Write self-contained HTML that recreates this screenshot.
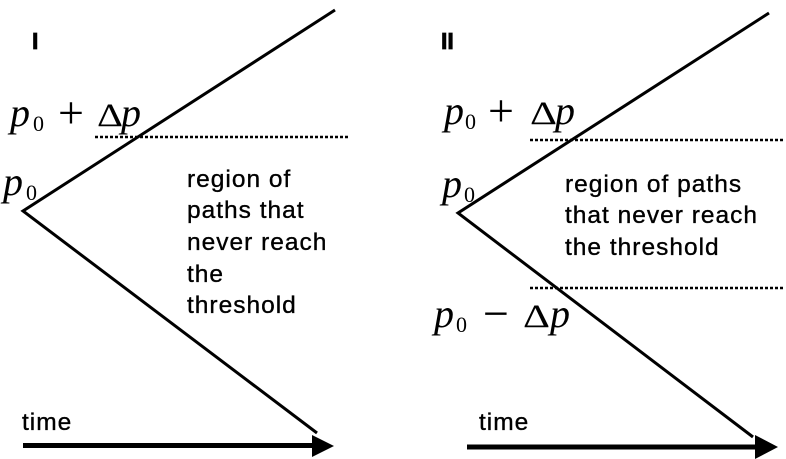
<!DOCTYPE html>
<html>
<head>
<meta charset="utf-8">
<style>
  html, body { margin: 0; padding: 0; background: #fff; }
  svg { display: block; }
  .t { font-family: "Liberation Sans", sans-serif; font-size: 24.5px; letter-spacing: 1px; fill: #000; stroke: #000; stroke-width: 0.35px; }
  .b { font-family: "Liberation Sans", sans-serif; font-size: 23px; font-weight: bold; fill: #000; stroke: #000; stroke-width: 0.8px; }
  .pi { font-family: "Liberation Serif", serif; font-style: italic; font-size: 40px; fill: #000; }
  .sub { font-family: "Liberation Serif", serif; font-size: 22px; fill: #000; }
  .op { font-family: "Liberation Serif", serif; font-size: 46px; fill: #000; }
  .dl { font-family: "Liberation Serif", serif; font-size: 33px; fill: #000; }
</style>
</head>
<body>
<svg width="786" height="459" viewBox="0 0 786 459" xmlns="http://www.w3.org/2000/svg">
  <rect x="0" y="0" width="786" height="459" fill="#fff"/>

  <!-- ===== Panel I ===== -->
  <text class="b" x="32" y="49">I</text>

  <line x1="95" y1="137" x2="348" y2="137" stroke="#000" stroke-width="2.5" stroke-dasharray="3 2"/>
  <polyline points="335,10 23,211 317,433" fill="none" stroke="#000" stroke-width="3" stroke-linejoin="miter"/>

  <!-- p0 + Δp -->
  <text class="pi" x="10" y="126">p</text>
  <text class="sub" x="33" y="131">0</text>
  <text class="op" x="71" y="128" text-anchor="middle">+</text>
  <text class="dl" x="97" y="126" textLength="26" lengthAdjust="spacingAndGlyphs">Δ</text>
  <text class="pi" x="121" y="126">p</text>

  <!-- p0 -->
  <text class="pi" x="3" y="195">p</text>
  <text class="sub" x="26" y="200">0</text>

  <text class="t" x="187" y="187">region of</text>
  <text class="t" x="187" y="218">paths that</text>
  <text class="t" x="187" y="250">never reach</text>
  <text class="t" x="187" y="282">the</text>
  <text class="t" x="187" y="313">threshold</text>

  <text class="t" x="22" y="430">time</text>
  <line x1="23" y1="445.5" x2="314" y2="445.5" stroke="#000" stroke-width="5"/>
  <polygon points="312,435 334,446 312,457" fill="#000"/>

  <!-- ===== Panel II ===== -->
  <text class="b" x="441" y="49">II</text>

  <line x1="530" y1="140" x2="784" y2="140" stroke="#000" stroke-width="2.5" stroke-dasharray="3 2"/>
  <line x1="530" y1="288" x2="784" y2="288" stroke="#000" stroke-width="2.5" stroke-dasharray="3 2"/>
  <polyline points="769,13 458,213 753,437" fill="none" stroke="#000" stroke-width="3" stroke-linejoin="miter"/>

  <!-- p0 + Δp -->
  <text class="pi" x="444" y="124">p</text>
  <text class="sub" x="465" y="129">0</text>
  <text class="op" x="501" y="126" text-anchor="middle">+</text>
  <text class="dl" x="530" y="124" textLength="27" lengthAdjust="spacingAndGlyphs">Δ</text>
  <text class="pi" x="555" y="124">p</text>

  <!-- p0 -->
  <text class="pi" x="442" y="197">p</text>
  <text class="sub" x="464" y="202">0</text>

  <!-- p0 − Δp -->
  <text class="pi" x="434" y="327">p</text>
  <text class="sub" x="456" y="332">0</text>
  <text class="op" x="496" y="329" text-anchor="middle">−</text>
  <text class="dl" x="523" y="327" textLength="27" lengthAdjust="spacingAndGlyphs">Δ</text>
  <text class="pi" x="550" y="327">p</text>

  <text class="t" x="565" y="192">region of paths</text>
  <text class="t" x="565" y="223">that never reach</text>
  <text class="t" x="565" y="255">the threshold</text>

  <text class="t" x="479" y="430">time</text>
  <line x1="467" y1="447" x2="757" y2="447" stroke="#000" stroke-width="5"/>
  <polygon points="755,435 778,447 755,459" fill="#000"/>
</svg>
</body>
</html>
